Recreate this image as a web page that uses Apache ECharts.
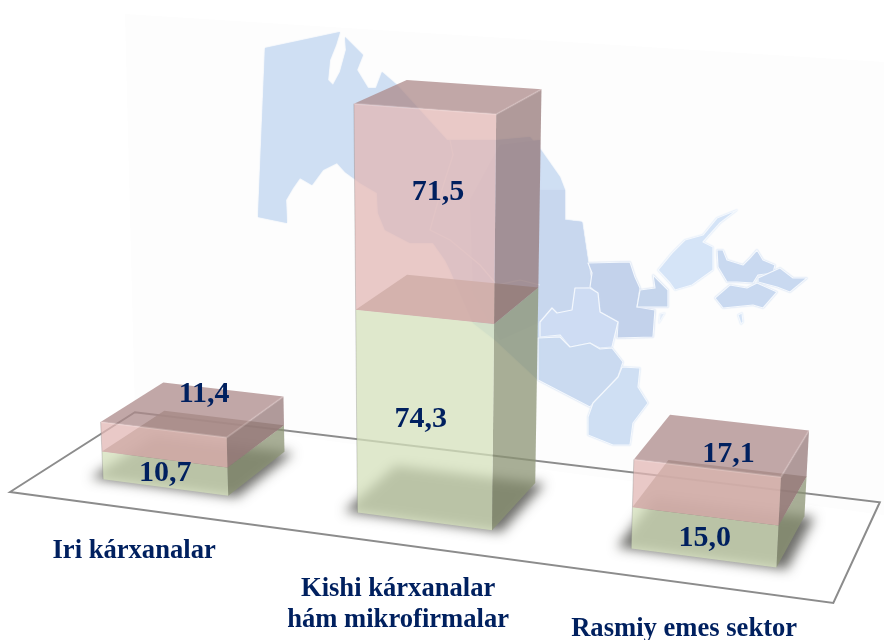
<!DOCTYPE html>
<html><head><meta charset="utf-8">
<style>html,body{margin:0;padding:0;background:#fff}#c{width:884px;height:640px}</style>
<script src="https://cdn.jsdelivr.net/npm/echarts@6/dist/echarts.min.js"></script>
</head><body><div id="c"></div>
<script>
// ---- data ----
const categories = ['Iri kárxanalar', 'Kishi kárxanalar\nhám mikrofirmalar', 'Rasmiy emes sektor'];
const lowerValues = [10.7, 74.3, 15.0];
const upperValues = [11.4, 71.5, 17.1];

// ---- layout and style ----
const labelNudge = { lower: [[0, 0], [-4, 0], [0, 1]], upper: [[40, -50], [13, -21], [22, -38]] };
const categoryNudge = [[-31, 64], [-26, 83], [-19, 71]];
const GRID = { left: 40, top: 40, width: 804, height: 560 };
const Y_MAX = 160;
const VALUE_FONT = 'bold 30px "Liberation Serif"';
const CAT_FONT = 'bold 26.6px "Liberation Serif"';
const TEXT = '#00205f';
const SHADOW_SHIFT = 2000;

// perspective of the scene: the flat grid is projected on a slanted floor
const O = [10, 492], A = -0.108, VX = [-6790, -425], B = -0.00036, VY = [420, 7750], C = 0.112, VZ = [1250, -300];
function project(X, Y, Z) {
  const w = 1 + A * X + B * Y + C * Z;
  return [(O[0] + A * X * VX[0] + B * Y * VY[0] + C * Z * VZ[0]) / w,
          (O[1] + A * X * VX[1] + B * Y * VY[1] + C * Z * VZ[1]) / w];
}
const Z_FRONT = 0.24, Z_BACK = 0.76;
const worldX = px => (px - GRID.left) / GRID.width * 1.006;
const worldY = py => (GRID.top + GRID.height - py) / (GRID.height / Y_MAX);
function box(api, cat, y0v, y1v) {
  const c0 = api.coord([cat, y0v]), c1 = api.coord([cat, y1v]);
  const half = api.size([1, 0])[0] / GRID.width * 0.252;
  const xc = worldX(c0[0]);
  return { x0: xc - half, x1: xc + half, y0: worldY(c0[1]), y1: worldY(c1[1]) };
}
const poly = (points, fill, extra) => ({ type: 'polygon', shape: { points }, style: Object.assign({ fill }, extra || {}) });
function faces(b, col) {
  const P = project;
  const out = [];
  out.push(poly([P(b.x1, b.y0, Z_FRONT), P(b.x1, b.y0, Z_BACK), P(b.x1, b.y1, Z_BACK), P(b.x1, b.y1, Z_FRONT)], col.side));
  out.push(poly([P(b.x0, b.y1, Z_FRONT), P(b.x1, b.y1, Z_FRONT), P(b.x1, b.y1, Z_BACK), P(b.x0, b.y1, Z_BACK)], col.top));
  out.push(poly([P(b.x0, b.y0, Z_FRONT), P(b.x1, b.y0, Z_FRONT), P(b.x1, b.y1, Z_FRONT), P(b.x0, b.y1, Z_FRONT)], col.front));
  out.push({ type: 'polyline', shape: { points: [P(b.x0, b.y1, Z_FRONT), P(b.x1, b.y1, Z_FRONT), P(b.x1, b.y1, Z_BACK)] },
    style: { fill: null, stroke: col.edge, lineWidth: 2 } });
  out.push({ type: 'polyline', shape: { points: [P(b.x0, b.y0, Z_FRONT), P(b.x0, b.y1, Z_FRONT)] },
    style: { fill: null, stroke: 'rgba(120,120,120,0.3)', lineWidth: 1 } });
  return out;
}
const GREEN = { front: 'rgba(212,224,187,0.75)', side: 'rgba(139,147,115,0.75)', top: 'rgba(150,140,125,0.8)', edge: 'rgba(255,255,255,0)' };
const PINK = { front: 'rgba(226,183,180,0.75)', side: 'rgba(149,120,120,0.75)', top: 'rgba(172,138,138,0.75)', edge: 'rgba(255,235,235,0.22)' };

// ---- decorative backdrop: the map on the back wall ----
const wall = [[125, 14], [884, 62], [884, 515], [135, 415]];
const mapParts = [
  ['#cfdff3', [[265,48],[340,32],[336,45],[330,60],[328,80],[333,85],[340,72],[346,50],[345,37],[363,55],[357,70],[368,88],[376,88],[382,72],[397,85],[417,107],[447,140],[497,140],[530,137],[541,150],[560,177],[565,190],[565,220],[582,222],[588,262],[592,287],[575,288],[572,310],[557,313],[552,308],[540,322],[540,337],[538,380],[495,340],[473,323],[450,270],[445,260],[433,243],[410,243],[385,230],[378,213],[377,193],[360,183],[345,172],[337,163],[323,170],[312,185],[300,178],[293,188],[286,200],[287,223],[258,217]]],
  ['#c8d7ee', [[540,190],[565,190],[565,220],[582,222],[588,262],[592,287],[575,288],[572,310],[557,313],[552,308],[540,322],[500,340],[473,290],[470,200],[500,145],[540,140]]],
  ['#c3d2eb', [[588,263],[630,262],[635,277],[640,288],[637,307],[655,310],[653,337],[617,338],[618,322],[600,312],[597,293],[590,287],[592,273]]],
  ['#cedcf3', [[575,288],[590,288],[598,293],[600,312],[618,322],[612,347],[600,348],[590,343],[570,347],[560,335],[540,337],[540,322],[552,308],[557,313],[572,310]]],
  ['#cadaf0', [[538,338],[560,337],[570,347],[590,343],[600,349],[612,348],[623,362],[618,377],[590,407],[563,393],[538,380]]],
  ['#cfdff3', [[622,367],[640,368],[638,387],[648,403],[633,423],[630,445],[613,445],[588,435],[588,417],[593,403],[618,377]]],
  ['#c5d5ec', [[653,275],[668,290],[668,307],[637,307],[640,290],[655,288]]],
  ['#d5e4f7', [[737,210],[717,218],[703,235],[685,240],[672,253],[658,270],[670,283],[675,290],[692,285],[713,270],[713,247],[703,242],[720,223]]],
  ['#c9d9f0', [[717,250],[723,250],[727,260],[743,265],[750,258],[757,250],[763,260],[775,265],[773,273],[758,275],[753,283],[737,282],[727,282],[718,267]]],
  ['#c9d9f0', [[758,278],[780,268],[793,278],[807,278],[790,292],[777,287],[758,282]]],
  ['#c9d9f0', [[715,298],[730,285],[747,288],[757,283],[777,292],[763,308],[753,305],[723,308]]],
  ['#d5e4f7', [[738,315],[742,313],[743,322],[741,324]]],
  ['#e3ecf8', [[660,314],[665,313],[659,323]]]
];
const mapLines = [[[450,140],[453,155],[437,205],[430,230],[450,240],[480,265],[497,285],[520,280],[540,285]]];

const graphics = [{ type: 'polygon', z: 0, shape: { points: wall }, style: { fill: '#fdfdfd' } }];
mapParts.forEach((p, i) => graphics.push({ type: 'polygon', z: 1 + i * 0.01, shape: { points: p[1] },
  style: { fill: p[0], stroke: i > 1 ? '#f4f8fd' : null, lineWidth: i > 1 ? 1.2 : 0, lineJoin: 'round', shadowBlur: 1.5, shadowColor: p[0] } }));
mapLines.forEach(l => graphics.push({ type: 'polyline', z: 1.5, shape: { points: l }, style: { fill: null, stroke: '#e1ebf8', lineWidth: 1.2 } }));

const chart = echarts.init(document.getElementById('c'), null, { renderer: 'canvas' });
chart.setOption({
  backgroundColor: '#ffffff',
  animation: false,
  graphic: { elements: graphics },
  grid: { left: GRID.left, top: GRID.top, width: GRID.width, height: GRID.height },
  xAxis: { type: 'category', data: categories, show: false },
  yAxis: { type: 'value', min: 0, max: Y_MAX, show: false },
  series: [
    { type: 'custom', name: 'floor', z: 3, silent: true, data: [[0, 0]], encode: { x: 0, y: 1 }, clip: false,
      renderItem: () => ({ type: 'polygon',
        shape: { points: [project(0, 0, 0), project(1, 0, 0), project(1, 0, 1), project(0, 0, 1)] },
        style: { fill: 'rgba(255,255,255,0)', stroke: '#8c8c8c', lineWidth: 2, lineJoin: 'miter' } }) },
    { type: 'custom', name: 'lower', z: 4, silent: true, clip: false, encode: { x: 0, y: [1, 2] },
      data: lowerValues.map((v, i) => [i, 0, v]),
      renderItem: (p, api) => {
        const b = box(api, api.value(0), api.value(1), api.value(2));
        const quad = [project(b.x0 - 0.016, 0, Z_FRONT - 0.005), project(b.x1 + 0.012, 0, Z_FRONT - 0.005),
          project(b.x1 + 0.012, 0, Z_BACK), project(b.x0 - 0.016, 0, Z_BACK)];
        const shadow = poly(quad.map(q => [q[0] - SHADOW_SHIFT, q[1]]), '#000',
          { shadowBlur: 12, shadowOffsetX: SHADOW_SHIFT, shadowColor: 'rgba(85,85,80,0.85)' });
        return { type: 'group', children: [shadow].concat(faces(b, GREEN)) };
      } },
    { type: 'custom', name: 'upper', z: 5, silent: true, clip: false, encode: { x: 0, y: [1, 2] },
      data: upperValues.map((v, i) => [i, lowerValues[i], lowerValues[i] + v]),
      renderItem: (p, api) => ({ type: 'group',
        children: faces(box(api, api.value(0), api.value(1), api.value(2)), PINK) }) },
    { type: 'custom', name: 'labels', z: 6, silent: true, clip: false, encode: { x: 0, y: [1, 2] },
      data: lowerValues.map((v, i) => [i, lowerValues[i], upperValues[i]]),
      renderItem: (p, api) => {
        const i = api.value(0), lo = api.value(1), up = api.value(2);
        const fmt = v => v.toFixed(1).replace('.', ',');
        const mid = (y0, y1) => {
          const b = box(api, i, y0, y1);
          const a = project(b.x0, b.y0, Z_FRONT), c = project(b.x1, b.y1, Z_FRONT);
          const e = project(b.x1, b.y0, Z_FRONT), f = project(b.x0, b.y1, Z_FRONT);
          return [(a[0] + c[0] + e[0] + f[0]) / 4, (a[1] + c[1] + e[1] + f[1]) / 4];
        };
        const text = (t, at, n, font) => ({ type: 'text', style: { text: t, x: at[0] + n[0], y: at[1] + n[1], fill: TEXT, font,
          align: 'center', verticalAlign: 'middle', lineHeight: 31 } });
        const foot = project(box(api, i, 0, lo).x0 + 0.084, 0, Z_FRONT);
        return { type: 'group', children: [
          text(fmt(lo), mid(0, lo), labelNudge.lower[i], VALUE_FONT),
          text(fmt(up), mid(lo, lo + up), labelNudge.upper[i], VALUE_FONT),
          text(categories[i], foot, categoryNudge[i], CAT_FONT)
        ] };
      } }
  ]
});
</script></body></html>
